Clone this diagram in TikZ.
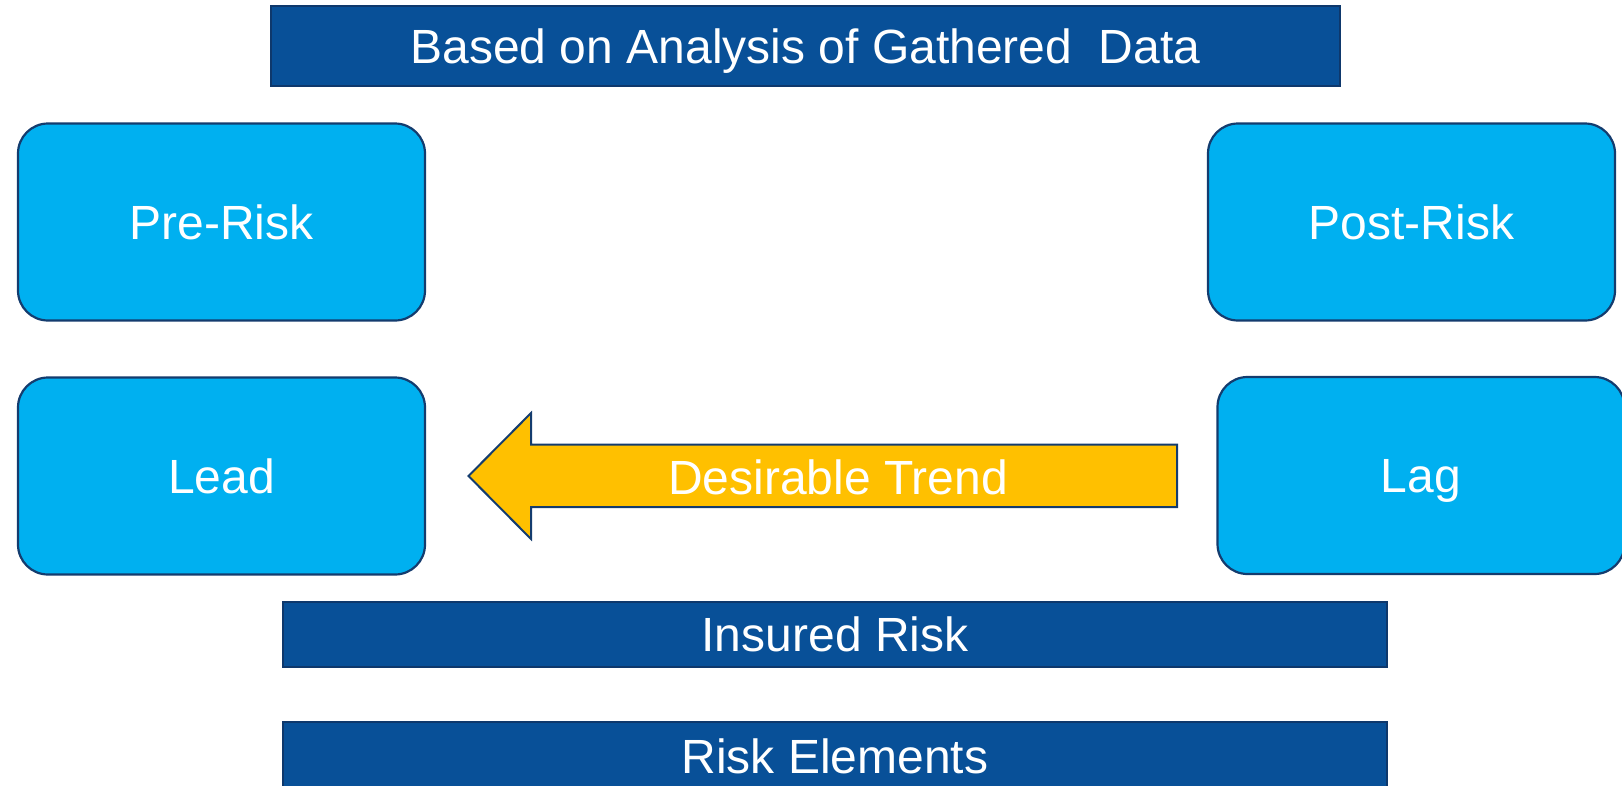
\documentclass[tikz,border=0pt]{standalone}
\usepackage{fontspec}
\setmainfont{Liberation Sans}
\definecolor{barblue}{RGB}{8,80,152}
\definecolor{barline}{RGB}{14,56,108}
\definecolor{skyblue}{RGB}{0,176,240}
\definecolor{navyline}{RGB}{20,60,110}
\definecolor{trendyellow}{RGB}{255,192,0}
\tikzset{
  bigtext/.style={font=\fontsize{48}{56}\selectfont, text=white, text height=34pt, text depth=0pt},
  barbox/.style={draw=barline, line width=1.6pt, fill=barblue, inner sep=0pt, bigtext},
  roundbox/.style={draw=navyline, line width=2.2pt, fill=skyblue, rounded corners=30pt,
    minimum width=407pt, minimum height=197pt, inner sep=0pt, bigtext},
  trendarrow/.style={draw=navyline, line width=2pt, fill=trendyellow, line join=miter}
}
\begin{document}
\begin{tikzpicture}[x=1pt,y=-1pt]
\useasboundingbox (0,0) rectangle (1622,785);
% top bar
\node[barbox, minimum width=1069pt, minimum height=80pt] (top) at (805.5,46) {Based on Analysis of Gathered\ \ Data};
% rounded boxes
\node[roundbox] (pre) at (221.5,222) {Pre-Risk};
\node[roundbox] (post) at (1411.5,222) {Post-Risk};
\node[roundbox] (lead) at (221.5,476) {Lead};
\node[roundbox] (lag) at (1421,475.5) {Lag};
% arrow
\coordinate (tip) at (468.5,476);
\draw[trendarrow] (tip) -- (531,413) -- (531,444.5) -- (1177,444.5) -- (1177,507) -- (531,507) -- (531,539) -- cycle;
\node[bigtext, inner sep=0pt] (trend) at (838,477) {Desirable Trend};
% bottom bars
\node[barbox, minimum width=1104pt, minimum height=65pt] (insured) at (835,634.5) {Insured Risk};
\node[barbox, minimum width=1104pt, minimum height=68pt] (elements) at (835,756) {Risk Elements};
\end{tikzpicture}
\end{document}
